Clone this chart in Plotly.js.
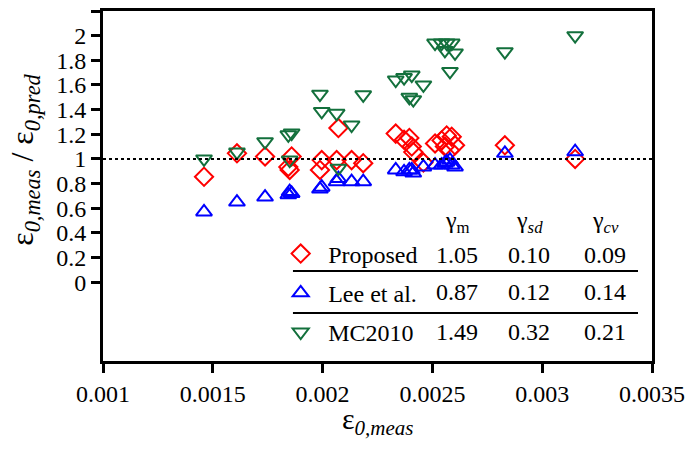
<!DOCTYPE html>
<html>
<head>
<meta charset="utf-8">
<script src="https://cdn.plot.ly/plotly-3.0.1.min.js"></script>
<style>
  body { margin: 0; background: #fff; }
  #chart { width: 685px; height: 450px; }
</style>
</head>
<body>
<div id="chart"></div>
<script>
// measured peak strain of each specimen
const epsMeas = [
  0.00146, 0.00161, 0.001738, 0.001844, 0.00185, 0.001859, 0.001988, 0.001996,
  0.002064, 0.002072, 0.002132, 0.002185, 0.002333, 0.002371, 0.002395, 0.002406,
  0.002413, 0.002459, 0.002512, 0.002542, 0.002557, 0.002565, 0.00258, 0.002588,
  0.002603, 0.00283, 0.00315
];

// measured / predicted ratios
const ratioProposed = [
  0.855, 1.045, 1.02, 0.935, 0.91, 1.02, 0.91, 0.99,
  0.99, 1.25, 0.99, 0.965, 1.205, 1.155, 1.17, 1.10,
  1.055, 0.97, 1.125, 1.15, 1.10, 1.19, 1.07, 1.18,
  1.11, 1.11, 1.0
];
const ratioLee = [
  0.57, 0.65, 0.69, 0.71, 0.735, 0.72, 0.755, 0.77,
  0.815, 0.84, 0.815, 0.815, 0.91, 0.895, 0.91, 0.91,
  0.885, 0.935, 0.95, 0.95, 0.965, 0.975, 0.99, 0.95,
  0.935, 1.045, 1.058
];
const ratioMC2010 = [
  1.0, 1.055, 1.14, 1.195, 0.99, 1.21, 1.525, 1.385,
  1.37, 0.925, 1.275, 1.52, 1.64, 1.66, 1.50, 1.68,
  1.48, 1.60, 1.94, 1.94, 1.88, 1.94, 1.71, 1.94,
  1.86, 1.87, 2.0
];

const seriesNames = ['Proposed', 'Lee et al.', 'MC2010'];

// statistics table
const statHeaders = ['γ<sub>m</sub>', 'γ<sub><i>sd</i></sub>', 'γ<sub><i>cv</i></sub>'];
const statMean = ['1.05', '0.87', '1.49'];
const statSd = ['0.10', '0.12', '0.32'];
const statCv = ['0.09', '0.14', '0.21'];

const xTickVals = [0.001, 0.0015, 0.002, 0.0025, 0.003, 0.0035];
const xTickText = ['0.001', '0.0015', '0.002', '0.0025', '0.003', '0.0035'];
const yTickVals = [0, 0.2, 0.4, 0.6, 0.8, 1, 1.2, 1.4, 1.6, 1.8, 2, 2.2];
const yTickText = ['0', '0.2', '0.4', '0.6', '0.8', '1', '1.2', '1.4', '1.6', '1.8', '2', '2.2'];

const serif = 'Liberation Serif';

function markerTrace(y, name, symbol, color) {
  return {
    x: epsMeas,
    y: y,
    mode: 'markers',
    type: 'scatter',
    name: name,
    legendgroup: name,
    marker: { symbol: symbol, size: 14, color: color,
              line: { width: 2, color: color } },
  };
}

var data = [
  markerTrace(ratioProposed, seriesNames[0], 'diamond-open', '#ff0000'),
  markerTrace(ratioLee, seriesNames[1], 'triangle-up-open', '#0000ff'),
  markerTrace(ratioMC2010, seriesNames[2], 'triangle-down-open', '#13703c'),
];

function note(x, y, text, size, extra) {
  var a = { xref: 'paper', yref: 'paper', x: x, y: y, text: text,
            xanchor: 'center', yanchor: 'middle', showarrow: false,
            font: { family: serif, size: size, color: '#000' } };
  return Object.assign(a, extra || {});
}

// table text
var annotations = [];
var colX = [0.645, 0.776, 0.915];
var rowY = [0.303, 0.197, 0.083];
statHeaders.forEach(function (h, i) {
  annotations.push(note(colX[i], 0.397, h, 24));
});
[statMean, statSd, statCv].forEach(function (col, i) {
  col.forEach(function (v, j) {
    annotations.push(note(colX[i], rowY[j], v, 24));
  });
});

// axis titles
annotations.push(note(0.5, -0.17, 'ε<sub><i>0,meas</i></sub>', 30));
annotations.push(note(-0.142, 0.575, 'ε<sub><i>0,meas</i></sub> / ε<sub><i>0,pred</i></sub>', 32,
  { textangle: -90 }));

var layout = {
  width: 685,
  height: 450,
  margin: { l: 103, r: 33, t: 11, b: 89 },
  paper_bgcolor: '#fff',
  plot_bgcolor: '#fff',
  font: { family: serif, color: '#000' },
  showlegend: true,
  legend: {
    x: 0.31, y: 0.37, xanchor: 'left', yanchor: 'top',
    bgcolor: 'rgba(0,0,0,0)',
    font: { family: serif, size: 24, color: '#000' },
    tracegroupgap: 5,
    traceorder: 'grouped',
    itemwidth: 45,
  },
  xaxis: {
    range: [0.001, 0.0035],
    tickvals: xTickVals,
    ticktext: xTickText,
    ticks: 'outside', ticklen: 9, tickwidth: 3, tickcolor: '#000',
    showline: true, linewidth: 3, linecolor: '#000', mirror: true,
    showgrid: false, zeroline: false,
    tickfont: { family: serif, size: 24, color: '#000' },
  },
  yaxis: {
    range: [-0.64, 2.2],
    tickvals: yTickVals,
    ticktext: yTickText,
    ticks: 'outside', ticklen: 9, tickwidth: 3, tickcolor: '#000',
    showline: true, linewidth: 3, linecolor: '#000', mirror: true,
    showgrid: false, zeroline: false,
    tickfont: { family: serif, size: 24, color: '#000' },
  },
  shapes: [
    // y = 1 reference
    { type: 'line', xref: 'paper', yref: 'y', x0: 0, x1: 1, y0: 1, y1: 1,
      line: { color: '#000', width: 2, dash: 'dot' } },
    // table rules
    { type: 'line', xref: 'paper', yref: 'paper', x0: 0.346, x1: 0.9745, y0: 0.257, y1: 0.257,
      line: { color: '#000', width: 2 } },
    { type: 'line', xref: 'paper', yref: 'paper', x0: 0.346, x1: 0.9745, y0: 0.137, y1: 0.137,
      line: { color: '#000', width: 2 } },
  ],
  annotations: annotations,
};

Plotly.newPlot('chart', data, layout, { displayModeBar: false, staticPlot: true });
</script>
</body>
</html>
